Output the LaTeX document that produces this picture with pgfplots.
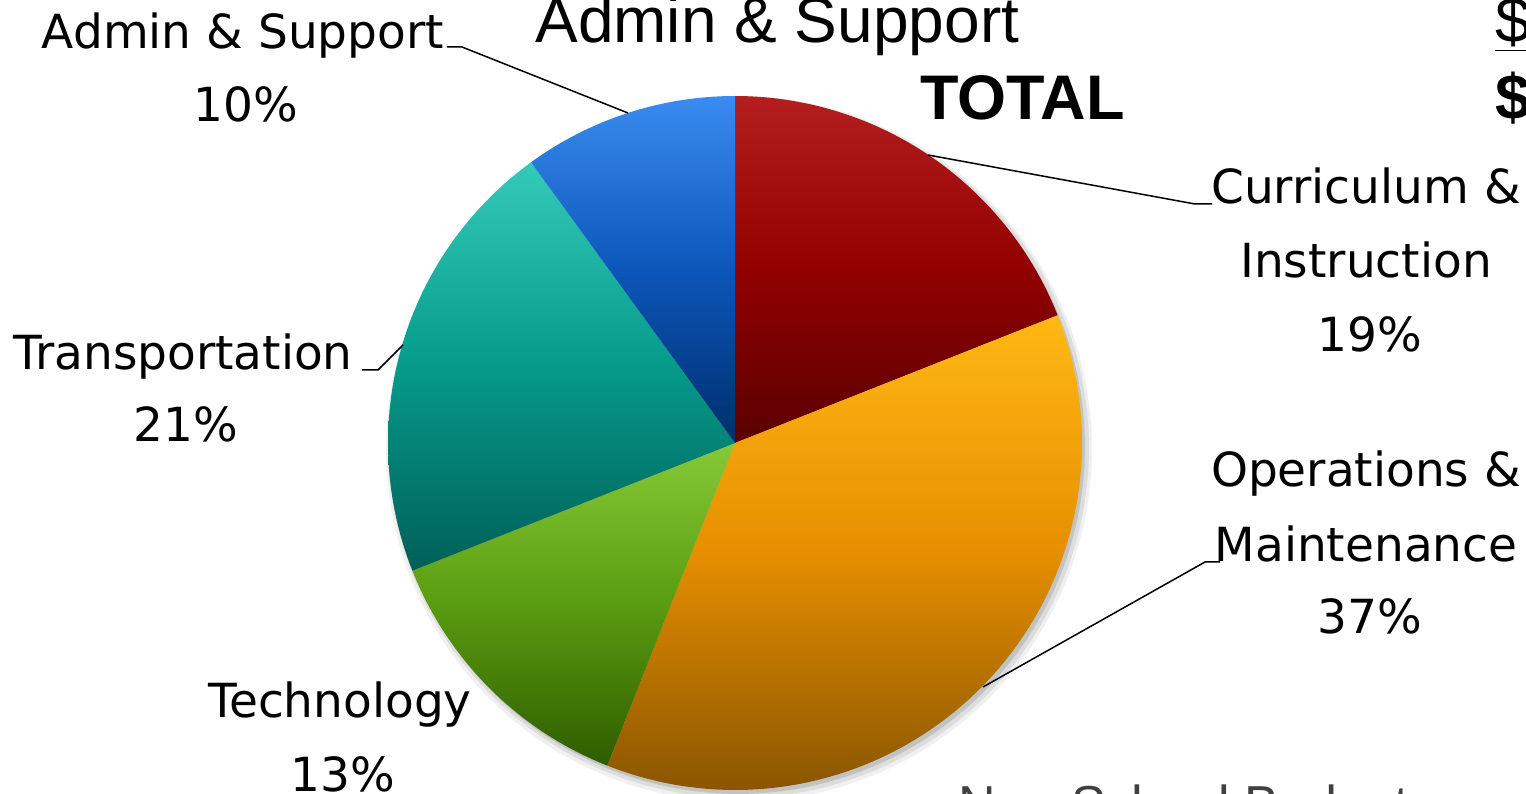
\documentclass[border=0pt]{standalone}
\usepackage{pgfplots}
\pgfplotsset{compat=1.18}
\usepackage{pgfplotstable}
\usepackage{fontspec}
\setmainfont{DejaVu Sans}
\newfontfamily\arialf{Liberation Sans}

\pgfplotstableread{
label pct
Curriculum 19
Operations 37
Technology 13
Transportation 21
Admin 10
}\piedata

\definecolor{redT}{HTML}{B41E1E}\definecolor{redM}{HTML}{920000}\definecolor{redB}{HTML}{5A0000}
\definecolor{orT}{HTML}{FFB814}\definecolor{orM}{HTML}{E68F00}\definecolor{orB}{HTML}{8A5600}
\definecolor{grT}{HTML}{86CA38}\definecolor{grM}{HTML}{5A9C10}\definecolor{grB}{HTML}{2E5C00}
\definecolor{teT}{HTML}{34CABA}\definecolor{teM}{HTML}{069A8A}\definecolor{teB}{HTML}{005F58}
\definecolor{blT}{HTML}{3A8CF0}\definecolor{blM}{HTML}{0C56BA}\definecolor{blB}{HTML}{002E6C}

\pgfplotstablegetelem{0}{pct}\of\piedata\let\pA\pgfplotsretval
\pgfplotstablegetelem{1}{pct}\of\piedata\let\pB\pgfplotsretval
\pgfplotstablegetelem{2}{pct}\of\piedata\let\pC\pgfplotsretval
\pgfplotstablegetelem{3}{pct}\of\piedata\let\pD\pgfplotsretval
\pgfplotstablegetelem{4}{pct}\of\piedata\let\pE\pgfplotsretval
\pgfmathsetmacro{\aO}{90}
\pgfmathsetmacro{\aA}{\aO-3.6*\pA}
\pgfmathsetmacro{\aB}{\aA-3.6*\pB}
\pgfmathsetmacro{\aC}{\aB-3.6*\pC}
\pgfmathsetmacro{\aD}{\aC-3.6*\pD}
\pgfmathsetmacro{\aE}{\aD-3.6*\pE}
\def\cx{735}\def\cy{350}\def\R{347}

\begin{document}%
\begin{tikzpicture}
\useasboundingbox (0,0) rectangle (763pt,396.5pt);
\clip (0,0) rectangle (763pt,396.5pt);
\begin{axis}[at={(0,0)}, anchor=origin, scale only axis, width=763pt, height=396.5pt,
  xmin=0, xmax=1526, ymin=0, ymax=793, hide axis, clip=false]
% shadow
\fill[black, opacity=0.06] plot[domain=0:360, samples=120, variable=\t] ({\cx+4+(\R+6)*cos(\t)},{\cy-6+(\R+6)*sin(\t)}) -- cycle;
\fill[black, opacity=0.08] plot[domain=0:360, samples=120, variable=\t] ({\cx+4+(\R+3)*cos(\t)},{\cy-5+(\R+3)*sin(\t)}) -- cycle;
\fill[black, opacity=0.12] plot[domain=0:360, samples=120, variable=\t] ({\cx+3+\R*cos(\t)},{\cy-4+\R*sin(\t)}) -- cycle;
% slices
\shade[top color=redT, bottom color=redB, middle color=redM] (\cx,\cy) -- plot[domain=\aO:\aA, samples=60, variable=\t] ({\cx+\R*cos(\t)},{\cy+\R*sin(\t)}) -- cycle;
\shade[top color=orT, bottom color=orB, middle color=orM] (\cx,\cy) -- plot[domain=\aA:\aB, samples=80, variable=\t] ({\cx+\R*cos(\t)},{\cy+\R*sin(\t)}) -- cycle;
\shade[top color=grT, bottom color=grB, middle color=grM] (\cx,\cy) -- plot[domain=\aB:\aC, samples=50, variable=\t] ({\cx+\R*cos(\t)},{\cy+\R*sin(\t)}) -- cycle;
\shade[top color=teT, bottom color=teB, middle color=teM] (\cx,\cy) -- plot[domain=\aC:\aD, samples=60, variable=\t] ({\cx+\R*cos(\t)},{\cy+\R*sin(\t)}) -- cycle;
\shade[top color=blT, bottom color=blB, middle color=blM] (\cx,\cy) -- plot[domain=\aD:\aE, samples=40, variable=\t] ({\cx+\R*cos(\t)},{\cy+\R*sin(\t)}) -- cycle;
% leader lines
\draw[black, line width=0.75pt] (447,746) -- (462,746) -- (628,680);
\draw[black, line width=0.75pt] (928,638) -- (1195,589) -- (1212,589);
\draw[black, line width=0.75pt] (362,423) -- (378,423) -- (403,448);
\draw[black, line width=0.75pt] (983,106) -- (1205,231) -- (1220,231);
% labels
\begin{scope}[every node/.style={anchor=base, inner sep=0pt, font=\fontsize{23.5}{28}\selectfont}]
\node at (243,744) {Admin \& Support};
\node at (246,671) {\pE\%};
\node at (1366,589) {Curriculum \&};
\node at (1366,515) {Instruction};
\node at (1370,441) {\pA\%};
\node at (1366,306) {Operations \&};
\node at (1366,231) {Maintenance};
\node at (1370,160) {\pB\%};
\node at (183,423) {Transportation};
\node at (186,351) {\pD\%};
\node at (340,76) {Technology};
\node at (343,2) {\pC\%};
\end{scope}
% slide background text
\node[anchor=base west, inner sep=0pt, font=\arialf\fontsize{32}{38}\selectfont] at (535,750) {Admin \& Support};
\node[anchor=base west, inner sep=0pt, font=\arialf\bfseries\fontsize{31.5}{38}\selectfont] at (920,673) {TOTAL};
\node[anchor=base west, inner sep=0pt, font=\arialf\fontsize{32}{38}\selectfont] at (1495,750) {\underline{\$}};
\node[anchor=base west, inner sep=0pt, font=\arialf\bfseries\fontsize{32}{38}\selectfont] at (1495,673) {\$};
\node[anchor=base west, inner sep=0pt, text=black!75, font=\arialf\fontsize{26}{32}\selectfont] at (958,-29) {Non-School Budget};
\end{axis}
\end{tikzpicture}%
\end{document}
